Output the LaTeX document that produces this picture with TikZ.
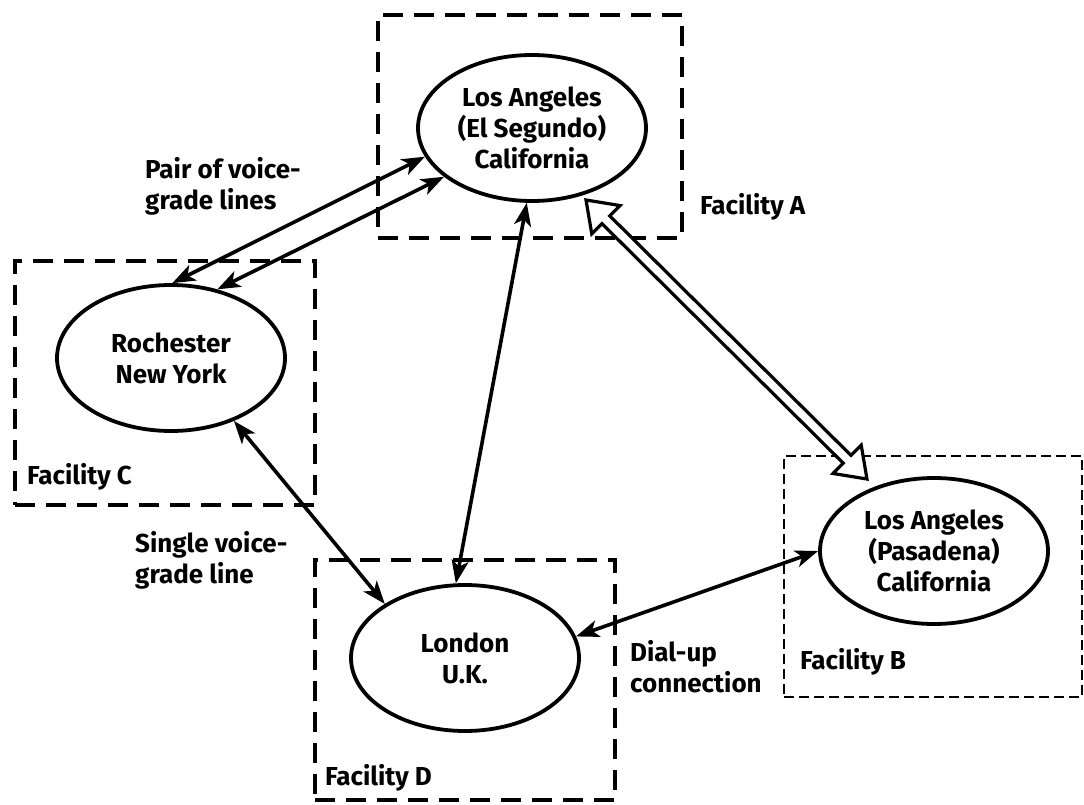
\documentclass[tikz,border=0pt]{standalone}
\usepackage{fontspec}
\setmainfont{Fira Sans}
\usetikzlibrary{arrows.meta,calc,shapes.geometric}
\begin{document}
\begin{tikzpicture}[x=1pt,y=-1pt,
  txt/.style={font=\fontsize{26}{31}\selectfont\bfseries},
  site/.style={txt, draw, ellipse, line width=3.8pt, minimum width=228pt,
    minimum height=146pt, inner sep=0pt, align=center},
  facbox/.style={draw, line width=4.5pt, dash pattern=on 20pt off 11pt,
    inner sep=0pt, rectangle},
  facboxthin/.style={draw, line width=2.4pt, dash pattern=on 10pt off 5pt,
    inner sep=0pt, rectangle},
  lbl/.style={txt, align=left, anchor=west, inner sep=0pt},
  link/.style={line width=3.6pt,
    {Stealth[length=23pt,width=17pt,inset=6pt]}-{Stealth[length=23pt,width=17pt,inset=6pt]}},
  hollow/.style={draw, line width=3.2pt, fill=white, line join=miter},
]
\useasboundingbox (0,0) rectangle (1084,805);

% facility boxes
\node[facbox, minimum width=304pt, minimum height=223pt] (fA) at (530,126.5) {};
\node[facbox, minimum width=300pt, minimum height=244pt] (fC) at (165,383) {};
\node[facbox, minimum width=300pt, minimum height=240pt] (fD) at (465,680) {};
\node[facboxthin, minimum width=298pt, minimum height=241pt] (fB) at (933,576.5) {};

% sites
\node[site] (la)  at (532,128) {Los Angeles\\(El Segundo)\\California};
\node[site] (roc) at (171,358) {Rochester\\New York};
\node[site] (lon) at (465,658) {London\\U.K.};
\node[site] (pas) at (934,551) {Los Angeles\\(Pasadena)\\California};

% labels
\node[lbl] (lA) at (700,207) {Facility A};
\node[lbl] (lC) at (27,477) {Facility C};
\node[lbl] (lB) at (800,662) {Facility B};
\node[lbl] (lD) at (325,778) {Facility D};
\node[lbl] (lpair) at (145,186) {Pair of voice-\\grade lines};
\node[lbl] (lsingle) at (135,560) {Single voice-\\grade line};
\node[lbl] (ldial) at (630,667) {Dial-up\\connection};

% connectors
\draw[link] (roc.89) -- (la.195);
\draw[link] (roc.56) -- (la.209);
\draw[link] (la.266) -- (lon.97);
\draw[link] (roc.-45) -- (lon.146);
\draw[link] (lon.11) -- (pas.180);

% hollow double arrow
\coordinate (h1) at (586,200);
\coordinate (h2) at (867,479);
\begin{scope}[shift={(h1)}, rotate=-44.8]
  \draw[hollow] (0,0) -- (28,20) -- (28,5.5) -- (368,5.5) -- (368,20) -- (396,0)
     -- (368,-20) -- (368,-5.5) -- (28,-5.5) -- (28,-20) -- cycle;
\end{scope}
\end{tikzpicture}
\end{document}
